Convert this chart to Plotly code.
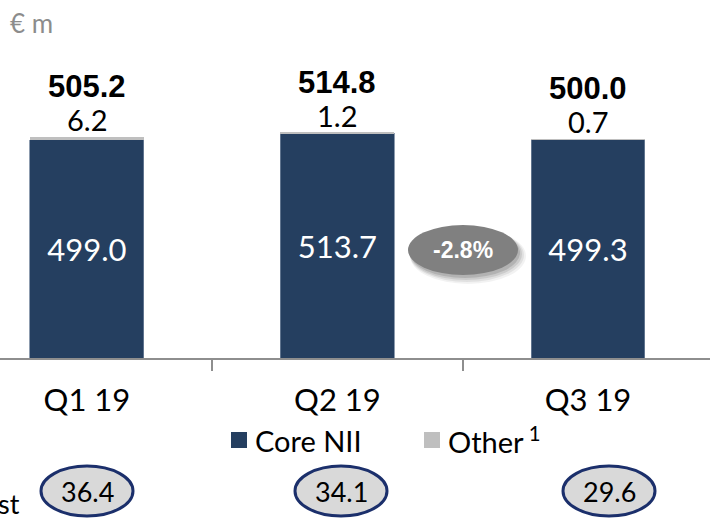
import plotly.graph_objects as go

categories = ["Q1 19", "Q2 19", "Q3 19"]
core_nii = [499.0, 513.7, 499.3]
other = [6.2, 1.2, 0.7]
totals = [505.2, 514.8, 500.0]
bottom_values = [36.4, 34.1, 29.6]
change_label = "-2.8%"
unit_label = "€ m"
legend_core = "Core NII"
legend_other = "Other"
cut_label = "st"

W, H = 710, 518
PLOT_H = 358  # pixels of plot area (axis line at bottom)

NAVY = "#253F60"
GREY_BAR = "#BFBFBF"
AXIS = "#8E8E8E"
FONT = "Lato, 'Open Sans', sans-serif"
BOLD_FONT = "'Liberation Sans', Arial, sans-serif"


def py(p):
    """pixel y (from top) -> paper y"""
    return (PLOT_H - p) / PLOT_H


def px(p):
    return p / W


fig = go.Figure()
fig.add_trace(go.Bar(
    x=categories, y=core_nii, name=legend_core, width=0.455,
    marker=dict(color=NAVY, line=dict(color="#6F829A", width=0.8)),
    text=[f"{v:.1f}" for v in core_nii], textposition="inside",
    insidetextanchor="middle", textangle=0,
    textfont=dict(color="white", size=31, family=FONT),
    showlegend=False,
))
fig.add_trace(go.Bar(
    x=categories, y=other, name=legend_other, width=0.455,
    marker=dict(color=GREY_BAR, line=dict(width=0)),
    showlegend=False,
))

annotations = []
for c, t, o in zip(categories, totals, other):
    annotations.append(dict(x=c, y=t, xref="x", yref="y", text=f"{o:.1f}",
                             showarrow=False, xanchor="center", yanchor="bottom", yshift=-2,
                             font=dict(size=29, family=FONT, color="black")))
    annotations.append(dict(x=c, y=t, xref="x", yref="y", text=f"<b>{t:.1f}</b>",
                             showarrow=False, xanchor="center", yanchor="bottom", yshift=31,
                             font=dict(size=31, family=BOLD_FONT, color="black")))

# unit label
annotations.append(dict(x=px(8), y=py(23), xref="paper", yref="paper", text=unit_label,
                        showarrow=False, xanchor="left", yanchor="middle",
                        font=dict(size=26, family=FONT, color="#8C8C8C")))

shapes = []
# change bubble with soft shadow
cx, cy, rx, ry = 463, 250, 55, 25
for dx, dy, grow, op in [(5, 6, 3, 0.05), (4, 5, 2, 0.07), (3, 4, 1, 0.09), (2, 3, 0, 0.12)]:
    shapes.append(dict(type="circle", xref="paper", yref="paper",
                       x0=px(cx - rx + dx - grow), x1=px(cx + rx + dx + grow),
                       y0=py(cy + ry + dy + grow), y1=py(cy - ry + dy - grow),
                       fillcolor=f"rgba(0,0,0,{op})", line=dict(width=0), layer="above"))
shapes.append(dict(type="circle", xref="paper", yref="paper",
                   x0=px(cx - rx), x1=px(cx + rx), y0=py(cy + ry), y1=py(cy - ry),
                   fillcolor="#808080", line=dict(width=0), layer="above"))
annotations.append(dict(x=px(cx), y=py(cy), xref="paper", yref="paper",
                        text=f"<b>{change_label}</b>", showarrow=False,
                        xanchor="center", yanchor="middle",
                        font=dict(size=23, family=BOLD_FONT, color="white")))

# legend (manual)
leg_y = 440
shapes.append(dict(type="rect", xref="paper", yref="paper",
                   x0=px(231), x1=px(247), y0=py(448), y1=py(432),
                   fillcolor=NAVY, line=dict(width=0)))
annotations.append(dict(x=px(253), y=py(leg_y), xref="paper", yref="paper",
                        text=legend_core, showarrow=False, xanchor="left", yanchor="middle",
                        font=dict(size=29, family=FONT, color="black")))
shapes.append(dict(type="rect", xref="paper", yref="paper",
                   x0=px(424), x1=px(440), y0=py(448), y1=py(432),
                   fillcolor=GREY_BAR, line=dict(width=0)))
annotations.append(dict(x=px(446), y=py(leg_y), xref="paper", yref="paper",
                        text=legend_other + "<sup> 1</sup>", showarrow=False,
                        xanchor="left", yanchor="middle",
                        font=dict(size=29, family=FONT, color="black")))

# bottom bubbles
bubble_centers = [87, 341, 609]
for c, v in zip(bubble_centers, bottom_values):
    shapes.append(dict(type="circle", xref="paper", yref="paper",
                       x0=px(c - 46), x1=px(c + 46), y0=py(516), y1=py(466),
                       fillcolor="#D9D9D9", line=dict(color="#1B2F6B", width=3)))
    annotations.append(dict(x=px(c), y=py(491), xref="paper", yref="paper",
                            text=f"{v:.1f}", showarrow=False,
                            xanchor="center", yanchor="middle",
                            font=dict(size=27, family=FONT, color="black")))
annotations.append(dict(x=px(-4), y=py(503), xref="paper", yref="paper",
                        text=cut_label, showarrow=False, xanchor="left", yanchor="middle",
                        font=dict(size=27, family=FONT, color="black")))

fig.update_layout(
    width=W, height=H, barmode="stack",
    margin=dict(l=0, r=0, t=0, b=H - PLOT_H, pad=0),
    paper_bgcolor="white", plot_bgcolor="white",
    showlegend=False,
    annotations=annotations, shapes=shapes,
    xaxis=dict(type="category", range=[-0.347, 2.487],
               tickson="boundaries", ticks="outside", ticklen=11, tickwidth=2,
               tickcolor=AXIS, showline=True, linecolor=AXIS, linewidth=2,
               showgrid=False, zeroline=False, automargin=False,
               ticklabelstandoff=14,
               tickfont=dict(size=31, family=FONT, color="black")),
    yaxis=dict(range=[0, 819], visible=False, showgrid=False, zeroline=False,
               automargin=False),
)

fig.write_html("out.html", config={"displayModeBar": False},
               post_script="document.body.style.margin='0';document.body.style.overflow='hidden';")
